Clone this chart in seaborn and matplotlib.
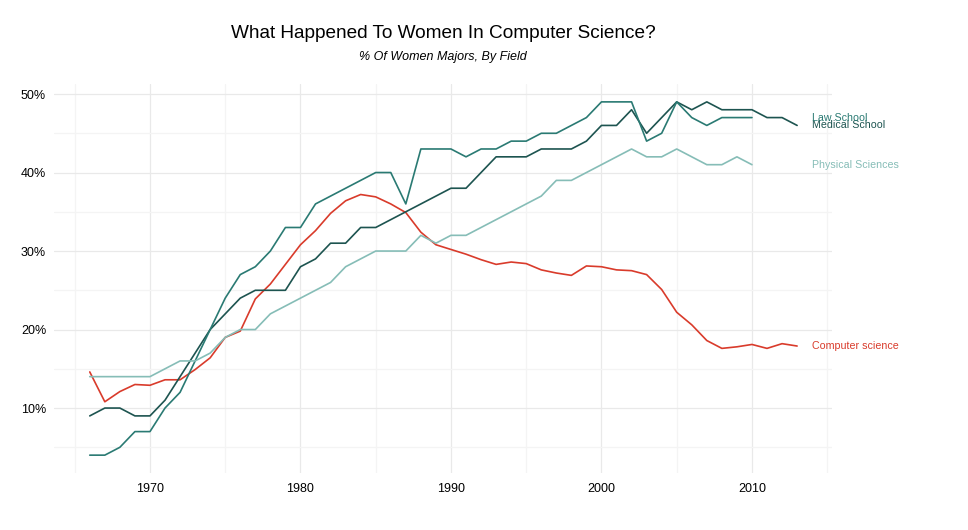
import numpy as np
import pandas as pd
import matplotlib.pyplot as plt
import seaborn as sns

# dados (% de mulheres por área)
years_long = list(range(1966, 2014))
years_short = list(range(1966, 2011))

computer_science = [14.6, 10.8, 12.1, 13.0, 12.9, 13.6, 13.6, 14.9, 16.4, 19.0,
                    19.8, 23.9, 25.8, 28.3, 30.8, 32.6, 34.8, 36.4, 37.2, 36.9,
                    36.0, 34.9, 32.4, 30.8, 30.2, 29.6, 28.9, 28.3, 28.6, 28.4,
                    27.6, 27.2, 26.9, 28.1, 28.0, 27.6, 27.5, 27.0, 25.1, 22.2,
                    20.6, 18.6, 17.6, 17.8, 18.1, 17.6, 18.2, 17.9]
medical_school = [9, 10, 10, 9, 9, 11, 14, 17, 20, 22, 24, 25, 25, 25, 28, 29,
                  31, 31, 33, 33, 34, 35, 36, 37, 38, 38, 40, 42, 42, 42, 43, 43,
                  43, 44, 46, 46, 48, 45, 47, 49, 48, 49, 48, 48, 48, 47, 47, 46]
law_school = [4, 4, 5, 7, 7, 10, 12, 16, 20, 24, 27, 28, 30, 33, 33, 36, 37,
              38, 39, 40, 40, 36, 43, 43, 43, 42, 43, 43, 44, 44, 45, 45, 46,
              47, 49, 49, 49, 44, 45, 49, 47, 46, 47, 47, 47]
physical_sciences = [14, 14, 14, 14, 14, 15, 16, 16, 17, 19, 20, 20, 22, 23,
                     24, 25, 26, 28, 29, 30, 30, 30, 32, 31, 32, 32, 33, 34,
                     35, 36, 37, 39, 39, 40, 41, 42, 43, 42, 42, 43, 42, 41,
                     41, 42, 41]

fields = ["Computer science", "Medical School", "Law School", "Physical Sciences"]
colors = ["#d93b2b", "#1d5450", "#2a7a73", "#86bdb7"]

x_ticks = [1970, 1980, 1990, 2000, 2010]
y_ticks = [10, 20, 30, 40, 50]
y_labels = ["10%", "20%", "30%", "40%", "50%"]

# tabela longa para o seaborn
df = pd.concat([
    pd.DataFrame({"year": years_long, "pct": computer_science, "field": fields[0]}),
    pd.DataFrame({"year": years_long, "pct": medical_school, "field": fields[1]}),
    pd.DataFrame({"year": years_short, "pct": law_school, "field": fields[2]}),
    pd.DataFrame({"year": years_short, "pct": physical_sciences, "field": fields[3]}),
])
palette = dict(zip(fields, colors))

sns.set_theme(style="white")
plt.rcParams["font.family"] = ["Liberation Sans", "DejaVu Sans"]

fig = plt.figure(figsize=(9.68, 5.3), dpi=100)
ax = fig.add_axes([0.0562, 0.1079, 0.8038, 0.7332])

sns.lineplot(data=df, x="year", y="pct", hue="field", palette=palette,
             linewidth=1.2, legend=False, ax=ax)

ax.set_xlim(1963.65, 2015.35)
ax.set_ylim(1.75, 51.25)
ax.set_xticks(x_ticks)
ax.set_xticks([1965, 1975, 1985, 1995, 2005, 2015], minor=True)
ax.set_yticks(y_ticks)
ax.set_yticklabels(y_labels)
ax.set_yticks([5, 15, 25, 35, 45], minor=True)
ax.grid(which="major", color="#e9e9e9", linewidth=0.9)
ax.grid(which="minor", color="#f4f4f4", linewidth=0.9)
ax.set_axisbelow(True)
for s in ax.spines.values():
    s.set_visible(False)
ax.tick_params(axis="x", which="major", length=4, width=1, color="#444444",
               labelsize=9, labelcolor="black", pad=3)
ax.tick_params(axis="y", which="major", length=0, labelsize=9,
               labelcolor="black", pad=6)
ax.tick_params(which="minor", length=0)
ax.set_xlabel("")
ax.set_ylabel("")

# rótulos no fim das linhas
last_vals = [computer_science[-1], medical_school[-1], law_school[-1], physical_sciences[-1]]
for name, val, col in zip(fields, last_vals, colors):
    ax.text(2014, val, name, color=col, fontsize=7.7, va="center", ha="left",
            clip_on=False)

fig.text(0.4577, 0.9377, "What Happened To Women In Computer Science?",
         ha="center", va="center", fontsize=13.7, color="black")
fig.text(0.4577, 0.8925, "% Of Women Majors, By Field",
         ha="center", va="center", fontsize=9, style="italic", color="black")

fig.savefig("out.png", dpi=100)
